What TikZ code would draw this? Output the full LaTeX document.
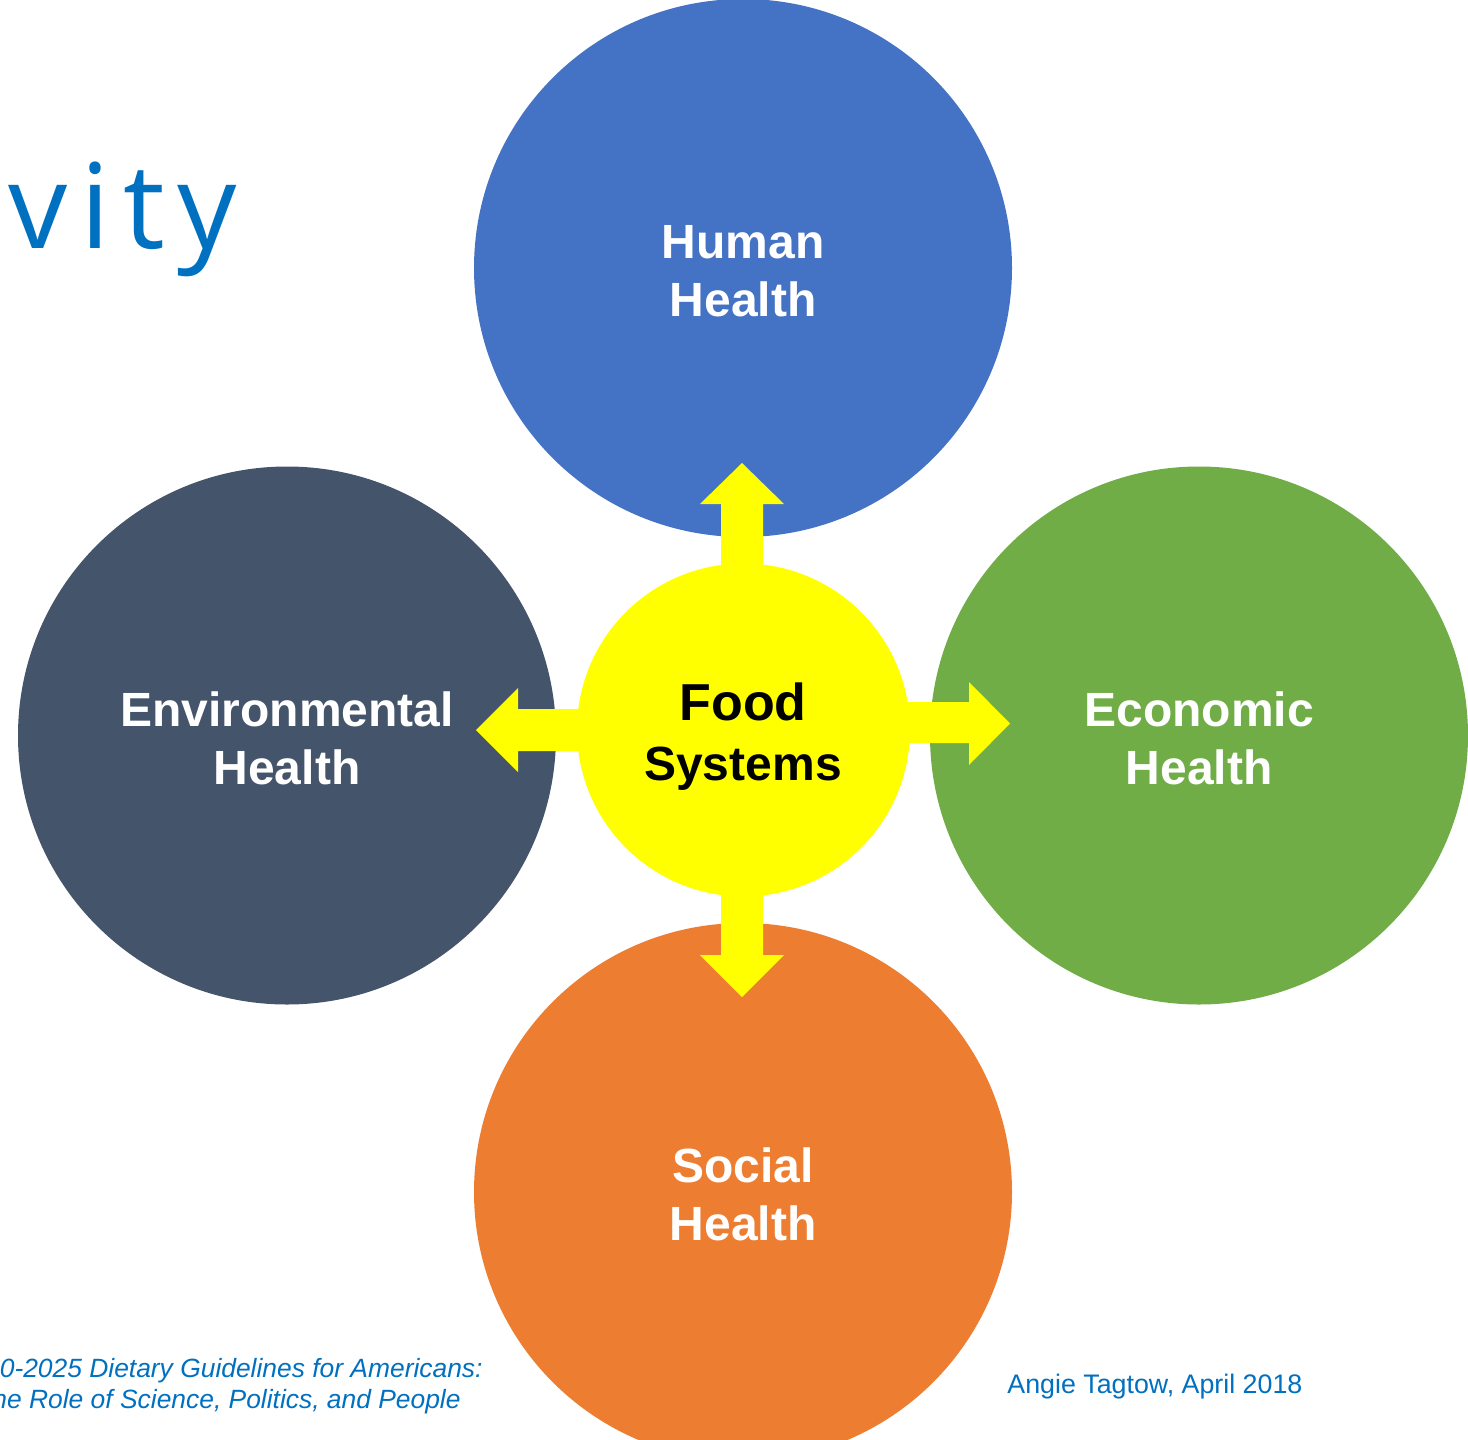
\documentclass[tikz,border=0pt]{standalone}
\usepackage{fontspec}
\setmainfont{Liberation Sans}
\newfontfamily\titlefont{Open Sans}[LetterSpace=11]
\definecolor{humanblue}{HTML}{4472C4}
\definecolor{envslate}{HTML}{44546A}
\definecolor{econgreen}{HTML}{70AD47}
\definecolor{socorange}{HTML}{ED7D31}
\definecolor{foodyellow}{HTML}{FFFF00}
\definecolor{textblue}{HTML}{0070C0}
\begin{document}
\begin{tikzpicture}[x=0.5pt,y=-0.5pt,
  bigc/.style={circle, minimum size=269pt, inner sep=0pt, draw=none},
  foodc/.style={circle, minimum size=166.5pt, inner sep=0pt, draw=none, fill=foodyellow},
  lbl/.style={align=center, text=white, font=\bfseries\fontsize{24}{29}\selectfont, inner sep=0pt},
  foodlbl/.style={anchor=base, text=black, inner sep=0pt},
  blockarrow/.style={fill=foodyellow, draw=none},
  foot/.style={text=textblue, font=\itshape\fontsize{13.2}{15.5}\selectfont, inner sep=0pt},
  foottwo/.style={text=textblue, font=\fontsize{13.4}{15.5}\selectfont, inner sep=0pt}
]
\useasboundingbox (0,0) rectangle (1468,1440);
\begin{scope}
\clip (0,0) rectangle (1468,1440);
\fill[white] (0,0) rectangle (1468,1440);
% title fragment
\node[anchor=base west, inner sep=0pt, text=textblue, font=\titlefont\fontsize{59}{70}\selectfont] (title) at (8,248) {vity};
% big circles
\node[bigc, fill=humanblue] (human) at (743,268) {};
\node[bigc, fill=envslate] (env) at (287,735.5) {};
\node[bigc, fill=econgreen] (econ) at (1199,735.5) {};
\node[bigc, fill=socorange] (social) at (743,1192) {};
% block arrows
\fill[blockarrow] (721,600) -- (721,504) -- (700,504) -- (742,463) -- (784,504) -- (763,504) -- (763,600) -- cycle;
\fill[blockarrow] (721,860) -- (721,955) -- (700,955) -- (742,997) -- (784,955) -- (763,955) -- (763,860) -- cycle;
\fill[blockarrow] (610,709) -- (518,709) -- (518,688) -- (476,730) -- (518,772) -- (518,751) -- (610,751) -- cycle;
\fill[blockarrow] (880,702) -- (969,702) -- (969,682) -- (1010,723.5) -- (969,765) -- (969,743) -- (880,743) -- cycle;
% centre
\node[foodc] (food) at (743.5,730) {};
% labels
\node[lbl] (humanlbl) at (743,271) {Human\\Health};
\node[lbl] (envlbl) at (287,738) {Environmental\\Health};
\node[lbl] (econlbl) at (1199,738) {Economic\\Health};
\node[lbl] (sociallbl) at (743,1194) {Social\\Health};
\node[foodlbl, font=\bfseries\fontsize{26}{30}\selectfont] (foodlblA) at (743,720) {Food};
\node[foodlbl, font=\bfseries\fontsize{24}{30}\selectfont] (foodlblB) at (743,780) {Systems};
% footer
\node[foot, anchor=base east] (refa) at (483,1377) {0-2025 Dietary Guidelines for Americans:};
\node[foot, anchor=base east] (refb) at (461,1408) {ne Role of Science, Politics, and People};
\node[foottwo, anchor=base west] (author) at (1007,1393) {Angie Tagtow, April 2018};
\end{scope}
\end{tikzpicture}
\end{document}
